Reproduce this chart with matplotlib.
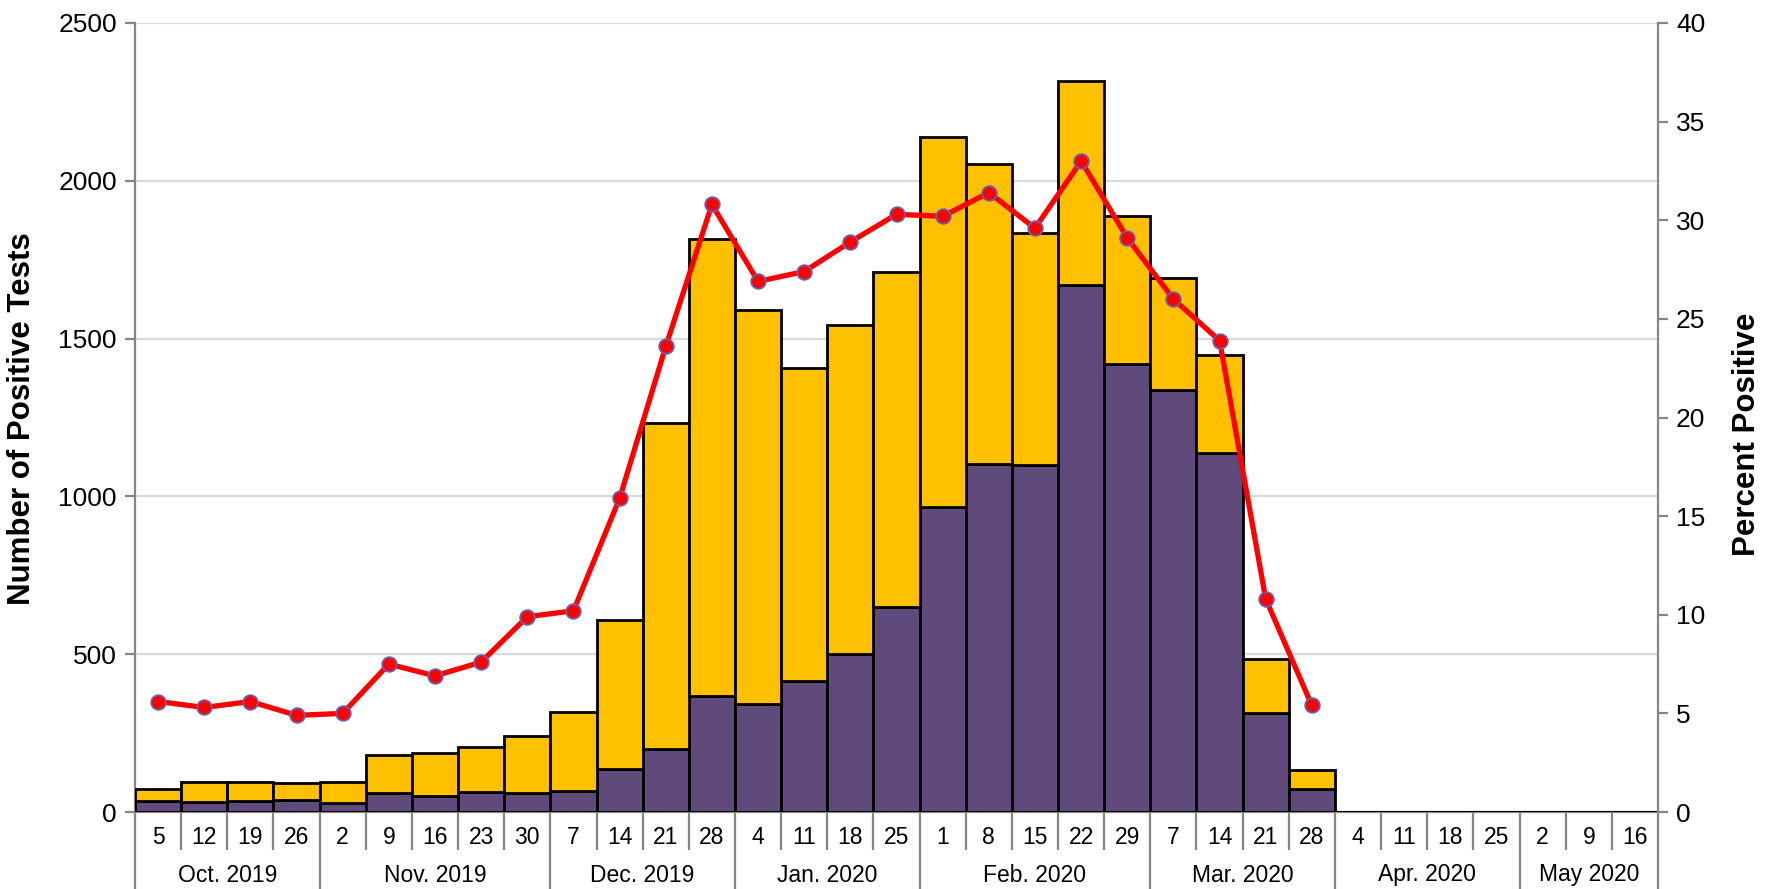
import matplotlib
matplotlib.use("Agg")
import matplotlib.pyplot as plt
import numpy as np

plt.rcParams['font.family'] = ['Liberation Sans', 'DejaVu Sans']

# Week-ending days, grouped by month
day_labels = ['5', '12', '19', '26',
              '2', '9', '16', '23', '30',
              '7', '14', '21', '28',
              '4', '11', '18', '25',
              '1', '8', '15', '22', '29',
              '7', '14', '21', '28',
              '4', '11', '18', '25',
              '2', '9', '16']
months = ['Oct. 2019', 'Nov. 2019', 'Dec. 2019', 'Jan. 2020',
          'Feb. 2020', 'Mar. 2020', 'Apr. 2020', 'May 2020']
weeks_per_month = [4, 5, 4, 4, 5, 4, 4, 3]

# Positive tests per week (total) and the purple subset
total_positive = [73, 95, 94, 91, 95, 181, 188, 207, 240, 316,
                  607, 1234, 1817, 1592, 1406, 1542, 1710,
                  2139, 2053, 1834, 2316, 1887, 1691, 1448, 485, 134,
                  0, 0, 0, 0, 0, 0, 0]
purple_positive = [34, 32, 36, 38, 27, 61, 51, 63, 60, 67,
                   136, 200, 369, 341, 415, 500, 649,
                   966, 1102, 1099, 1670, 1421, 1336, 1136, 313, 74,
                   0, 0, 0, 0, 0, 0, 0]
# Percent positive (reported through Mar. 28)
percent_positive = [5.6, 5.3, 5.6, 4.9, 5.0, 7.5, 6.9, 7.6, 9.9, 10.2,
                    15.9, 23.6, 30.8, 26.9, 27.4, 28.9, 30.3,
                    30.2, 31.4, 29.6, 33.0, 29.1, 26.0, 23.9, 10.8, 5.4]

yellow = '#FFC000'
purple = '#604A7B'
grid_c = '#D9D9D9'
axis_c = '#868686'

W, H = 1767, 889
fig = plt.figure(figsize=(W / 100, H / 100), dpi=100)
ax = fig.add_axes([135 / W, 1 - 812 / H, (1658 - 135) / W, (812 - 23) / H])

n = len(day_labels)
x = np.arange(n)
yellow_part = np.array(total_positive) - np.array(purple_positive)

ax.bar(x, purple_positive, width=1.0, color=purple, edgecolor='black',
       linewidth=2.0, zorder=3)
ax.bar(x, yellow_part, bottom=purple_positive, width=1.0, color=yellow,
       edgecolor='black', linewidth=2.0, zorder=3)

ax.set_xlim(-0.5, n - 0.5)
ax.set_ylim(0, 2500)
ax.set_yticks(np.arange(0, 2501, 500))
ax.yaxis.grid(True, color=grid_c, linewidth=1.6, zorder=0)
ax.set_axisbelow(True)
ax.set_xticks([])

for side in ['top', 'right']:
    ax.spines[side].set_visible(False)
for side in ['left', 'bottom']:
    ax.spines[side].set_color(axis_c)
    ax.spines[side].set_linewidth(1.6)
ax.tick_params(axis='y', direction='out', length=7, width=1.6, color=axis_c,
               labelsize=19, pad=6)

# Secondary axis for percent positive
ax2 = ax.twinx()
ax2.plot(x[:len(percent_positive)], percent_positive, color='#FF0000',
         linewidth=3.8, marker='o', markersize=10.5,
         markerfacecolor='#FF0000', markeredgecolor='#6E5FA8',
         markeredgewidth=1.3, zorder=5)
ax2.set_ylim(0, 40)
ax2.set_yticks(np.arange(0, 41, 5))
for side in ['top', 'left', 'bottom']:
    ax2.spines[side].set_visible(False)
ax2.spines['right'].set_color(axis_c)
ax2.spines['right'].set_linewidth(1.6)
ax2.tick_params(axis='y', direction='out', length=7, width=1.6, color=axis_c,
                labelsize=19, pad=6)

# Two-level category axis: week days and months
tr = ax.get_xaxis_transform()
ah = 812 - 23
day_y = -(838 - 812) / ah
month_y = -(875 - 812) / ah
sep_short = -(850 - 812) / ah
sep_long = -(889 - 812) / ah

for i, lab in enumerate(day_labels):
    ax.text(i, day_y, lab, transform=tr, ha='center', va='center',
            fontsize=16.5, clip_on=False)

boundaries = np.cumsum([0] + weeks_per_month)
month_edges = set(boundaries.tolist())
for k in range(n + 1):
    y1 = sep_long if k in month_edges else sep_short
    ax.plot([k - 0.5, k - 0.5], [0, y1], transform=tr, color=axis_c,
            linewidth=1.6, clip_on=False, solid_capstyle='butt')

for m, label in enumerate(months):
    center = (boundaries[m] + boundaries[m + 1]) / 2 - 0.5
    ax.text(center, month_y, label, transform=tr, ha='center', va='center',
            fontsize=16.5, clip_on=False)

fig.text(22 / W, 1 - 419 / H, 'Number of Positive Tests', rotation=90,
         ha='center', va='center', fontsize=22.5, fontweight='bold')
fig.text(1747 / W, 1 - 434 / H, 'Percent Positive', rotation=90,
         ha='center', va='center', fontsize=22.5, fontweight='bold')

fig.savefig('out.png', dpi=100)
